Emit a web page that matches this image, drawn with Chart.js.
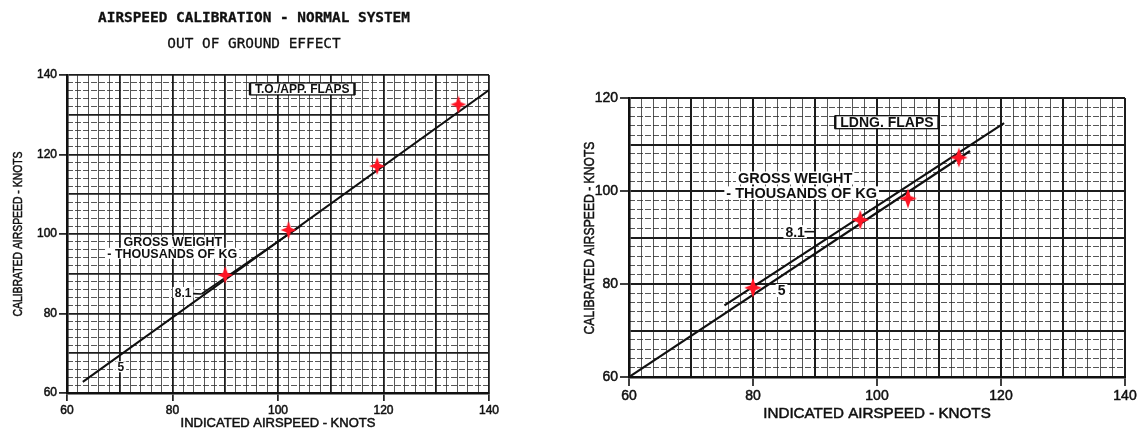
<!DOCTYPE html>
<html>
<head>
<meta charset="utf-8">
<script src="https://cdn.jsdelivr.net/npm/chart.js@4.4.1/dist/chart.umd.min.js"></script>
<style>
  html, body { margin: 0; padding: 0; background: #fff; width: 1141px; height: 430px; overflow: hidden; }
  .panel { position: absolute; top: 0; }
  #toPanel { left: 0; }
  #ldPanel { left: 570px; }
</style>
</head>
<body>
<div class="panel" id="toPanel"><canvas id="toChart" width="540" height="430"></canvas></div>
<div class="panel" id="ldPanel"><canvas id="ldChart" width="571" height="430"></canvas></div>
<script>
// ---- Data: indicated vs calibrated airspeed (knots) ----
const iasTicks = [60, 80, 100, 120, 140];
const casTicksTO = [60, 80, 100, 120, 140];
const casTicksLD = [60, 80, 100, 120];

// T.O./APP. flaps: 5 t and 8.1 t gross-weight curves, flight-test points
const toIas5 = [63, 140];
const toCas5 = [62.8, 136.2];
const toIas81 = [85.5, 104.5];
const toCas81 = [84.9, 102.2];
const toTestIas = [90, 102, 118.8, 134.2];
const toTestCas = [89.7, 101, 117.1, 132.6];

// LDNG. flaps: 5 t and 8.1 t gross-weight curves, flight-test points
const ldIas5 = [60, 115];
const ldCas5 = [60, 108.6];
const ldIas81 = [75.4, 120.5];
const ldCas81 = [75.4, 114.6];
const ldTestIas = [80, 97.3, 105, 113.2];
const ldTestCas = [79.2, 93.8, 98.4, 107.2];

const SANS = '"Liberation Sans", Arial, Helvetica, sans-serif';
const MONO = '"DejaVu Sans Mono", "Liberation Mono", monospace';
const INK = '#101010';
const MAJOR = '#1c1c1c';
const MINOR = 'rgba(45,45,45,0.8)';

const pairs = (xs, ys) => xs.map((v, i) => ({ x: v, y: ys[i] }));

// Four-pointed red marker used for the test points
function starMarker(r) {
  const s = Math.ceil(r * 2 + 2);
  const c = document.createElement('canvas');
  c.width = s; c.height = s;
  const g = c.getContext('2d');
  g.translate(s / 2, s / 2);
  g.beginPath();
  for (let k = 0; k < 8; k++) {
    const a = -Math.PI / 2 + k * Math.PI / 4;
    const rr = k % 2 ? r * 0.36 : (k % 4 === 0 ? r : r * 0.88);
    g.lineTo(Math.cos(a) * rr, Math.sin(a) * rr);
  }
  g.closePath();
  g.fillStyle = '#ff1424';
  g.fill();
  return c;
}

// Graph-paper axes: labelled major lines every 10 kt, fine lines every 2 kt
function paperScales(o) {
  const near = (v, m) => Math.abs(v / m - Math.round(v / m)) < 1e-6;
  const major = (min, max, pos, fit, labels) => ({
    type: 'linear', position: pos, min, max,
    afterFit: fit,
    afterBuildTicks: s => { s.ticks = []; for (let v = min; v <= max + 1e-9; v += 10) s.ticks.push({ value: v }); },
    ticks: {
      autoSkip: false, maxRotation: 0, color: INK, padding: o.tickPad,
      textStrokeColor: INK, textStrokeWidth: 0.5,
      font: { family: SANS, size: o.tickSize },
      callback: v => (labels.includes(v) ? String(v) : '')
    },
    grid: {
      color: MAJOR, lineWidth: o.majorW, tickLength: o.tickLen,
      tickColor: c => (c.tick && labels.includes(c.tick.value) ? INK : 'rgba(0,0,0,0)'),
      tickWidth: 1.6
    },
    border: { color: INK, width: 2.6 }
  });
  const minor = (min, max, pos, fit, dash) => ({
    type: 'linear', position: pos, min, max,
    afterFit: fit,
    afterBuildTicks: s => { s.ticks = []; for (let v = min; v <= max + 1e-9; v += 2) s.ticks.push({ value: v }); },
    ticks: { display: false },
    grid: {
      drawTicks: false, lineWidth: 1,
      color: c => (c.tick && near(c.tick.value, 10) ? 'rgba(0,0,0,0)' : MINOR)
    },
    border: { display: false, dash: dash }
  });
  return {
    xMinor: minor(o.xMin, o.xMax, 'top', s => { s.height = 0; }, []),
    yMinor: minor(o.yMin, o.yMax, 'right', s => { s.width = 0; }, [6, 2]),
    x: major(o.xMin, o.xMax, 'bottom', s => { s.height = o.xH; }, o.xLabels),
    y: major(o.yMin, o.yMax, 'left', s => { s.width = o.yW; }, o.yLabels)
  };
}

// Text, boxed captions and leaders placed on the paper
function notesPlugin(items) {
  return {
    id: 'notes',
    afterDraw(chart) {
      const ctx = chart.ctx;
      const sx = chart.scales.x, sy = chart.scales.y;
      for (const n of items) {
        ctx.save();
        ctx.fillStyle = INK;
        ctx.strokeStyle = INK;
        if (n.kind === 'leader') {
          ctx.lineWidth = 1.6;
          ctx.beginPath();
          ctx.moveTo(sx.getPixelForValue(n.from[0]), sy.getPixelForValue(n.from[1]));
          ctx.lineTo(sx.getPixelForValue(n.to[0]), sy.getPixelForValue(n.to[1]));
          ctx.stroke();
          ctx.restore();
          continue;
        }
        const px = n.at ? sx.getPixelForValue(n.at[0]) : n.px[0];
        const py = n.at ? sy.getPixelForValue(n.at[1]) : n.px[1];
        ctx.font = n.font;
        ctx.textAlign = 'center';
        ctx.textBaseline = 'middle';
        ctx.translate(px, py);
        if (n.rotate) ctx.rotate(n.rotate);
        if (n.squeeze) ctx.scale(n.squeeze, 1);
        const w = ctx.measureText(n.text).width;
        const h = n.h || 12;
        if (n.bg || n.box) {
          const pad = n.box ? 5 : 2;
          ctx.fillStyle = '#fff';
          ctx.fillRect(-w / 2 - pad, -h / 2, w + pad * 2, h);
          if (n.box) {
            ctx.lineWidth = 1.3;
            ctx.strokeRect(-w / 2 - pad, -h / 2, w + pad * 2, h);
            ctx.lineWidth = 2.4;
            ctx.beginPath();
            ctx.moveTo(-w / 2 - pad, -h / 2); ctx.lineTo(-w / 2 - pad, h / 2);
            ctx.moveTo(w / 2 + pad, -h / 2); ctx.lineTo(w / 2 + pad, h / 2);
            ctx.stroke();
          }
          ctx.fillStyle = INK;
        }
        if (n.stroke) {
          ctx.lineWidth = n.stroke;
          ctx.strokeText(n.text, 0, 1);
        }
        ctx.fillText(n.text, 0, 1);
        ctx.restore();
      }
    }
  };
}

function lineSet(xs, ys, w) {
  return { data: pairs(xs, ys), showLine: true, borderColor: INK, borderWidth: w, pointRadius: 0, fill: false, order: 2 };
}
function testSet(xs, ys, r) {
  return { data: pairs(xs, ys), showLine: false, pointStyle: starMarker(r), pointRadius: r, order: 1 };
}

function paperChart(id, datasets, scaleOpts, padding, items) {
  return new Chart(document.getElementById(id), {
    type: 'scatter',
    data: { datasets },
    options: {
      responsive: false, animation: false, devicePixelRatio: 1,
      layout: { padding, autoPadding: false },
      scales: paperScales(scaleOpts),
      plugins: { legend: { display: false }, tooltip: { enabled: false } }
    },
    plugins: [notesPlugin(items)]
  });
}

// ---- T.O./APP. flaps panel ----
paperChart('toChart',
  [lineSet(toIas5, toCas5, 2), lineSet(toIas81, toCas81, 1.8), testSet(toTestIas, toTestCas, 9)],
  { xMin: 60, xMax: 140, yMin: 60, yMax: 140, xLabels: iasTicks, yLabels: casTicksTO,
    xH: 37, yW: 67, tickLen: 8, tickPad: 2, tickSize: 12, majorW: 1.8 },
  { left: 0, top: 75, right: 51, bottom: 0 },
  [
    { px: [254, 17], text: 'AIRSPEED CALIBRATION - NORMAL SYSTEM', font: `bold 14.4px ${MONO}`, stroke: 0.3 },
    { px: [254, 43], text: 'OUT OF GROUND EFFECT', font: `14.4px ${MONO}`, stroke: 0.3 },
    { px: [17, 234], text: 'CALIBRATED AIRSPEED - KNOTS', font: `13px ${SANS}`, rotate: -Math.PI / 2, squeeze: 0.8, stroke: 0.5 },
    { px: [278, 422], text: 'INDICATED AIRSPEED - KNOTS', font: `13px ${SANS}`, stroke: 0.5 },
    { at: [104.6, 136.5], text: 'T.O./APP. FLAPS', font: `bold 12px ${SANS}`, box: true, h: 12 },
    { at: [80.05, 98.0], text: 'GROSS WEIGHT', font: `bold 12.5px ${SANS}`, bg: true, h: 11 },
    { at: [79.95, 95.15], text: '- THOUSANDS OF KG', font: `bold 12.5px ${SANS}`, bg: true, h: 11 },
    { at: [82.0, 85.3], text: '8.1', font: `bold 12px ${SANS}`, bg: true, h: 11 },
    { kind: 'leader', from: [83.9, 85.0], to: [85.5, 84.9] },
    { at: [70.2, 66.6], text: '5', font: `bold 12px ${SANS}`, bg: true, h: 11 }
  ]
);

// ---- LDNG. flaps panel ----
paperChart('ldChart',
  [lineSet(ldIas5, ldCas5, 2.2), lineSet(ldIas81, ldCas81, 2.2), testSet(ldTestIas, ldTestCas, 10)],
  { xMin: 60, xMax: 140, yMin: 60, yMax: 120, xLabels: iasTicks, yLabels: casTicksLD,
    xH: 53, yW: 59, tickLen: 9, tickPad: 2, tickSize: 14, majorW: 2 },
  { left: 0, top: 98, right: 16, bottom: 0 },
  [
    { px: [19, 238], text: 'CALIBRATED AIRSPEED - KNOTS', font: `15.2px ${SANS}`, rotate: -Math.PI / 2, squeeze: 0.8, stroke: 0.5 },
    { px: [307, 413], text: 'INDICATED AIRSPEED - KNOTS', font: `15.2px ${SANS}`, stroke: 0.5 },
    { at: [101.6, 114.8], text: 'LDNG. FLAPS', font: `bold 14px ${SANS}`, box: true, h: 13 },
    { at: [86.8, 102.8], text: 'GROSS WEIGHT', font: `bold 14.5px ${SANS}`, bg: true, h: 13 },
    { at: [87.85, 99.6], text: '- THOUSANDS OF KG', font: `bold 14.5px ${SANS}`, bg: true, h: 13 },
    { at: [86.8, 91.25], text: '8.1', font: `bold 14px ${SANS}`, bg: true, h: 13 },
    { kind: 'leader', from: [88.3, 91.25], to: [90, 91.25] },
    { at: [84.6, 78.6], text: '5', font: `bold 14px ${SANS}`, bg: true, h: 13 }
  ]
);
</script>
</body>
</html>
